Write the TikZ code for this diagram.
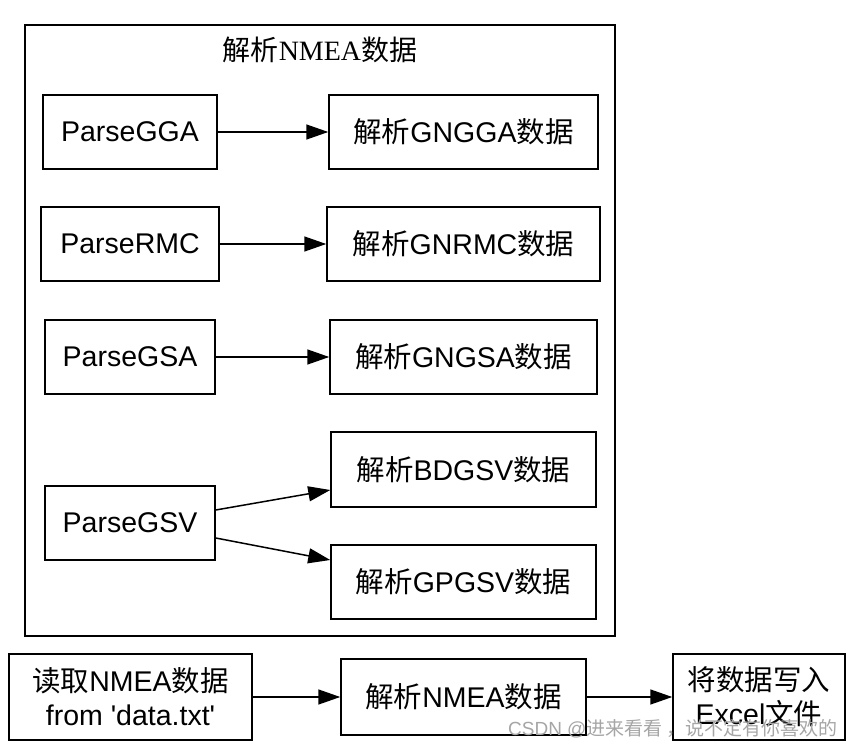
\documentclass[tikz,border=0pt]{standalone}
\usepackage{fontspec}
\setmainfont{Liberation Sans}
\newfontfamily\cjk{Noto Sans CJK SC}
\newfontfamily\titleserif{Liberation Serif}
\usetikzlibrary{arrows.meta}
\begin{document}
\begin{tikzpicture}[x=1pt,y=-1pt,
  box/.style={draw,line width=1.5pt,inner sep=0pt,align=center,font=\fontsize{28.5}{34}\selectfont},
  arr/.style={line width=1.5pt,-{Triangle[length=22pt,width=15pt]}}]
\useasboundingbox (0,0) rectangle (852,749);
\fill[white] (0,0) rectangle (852,749);
% cluster
\node[draw,line width=1.5pt,minimum width=590pt,minimum height=611pt,inner sep=0pt] (cluster) at (320,330.5) {};
\node (title) at (320,50) {\fontsize{28}{32}\selectfont{\cjk 解析}{\titleserif NMEA}{\cjk 数据}};
% left column
\node[box,minimum width=174pt,minimum height=74pt] (gga) at (130,132) {ParseGGA};
\node[box,minimum width=178pt,minimum height=74pt] (rmc) at (130,244) {ParseRMC};
\node[box,minimum width=170pt,minimum height=74pt] (gsa) at (130,357) {ParseGSA};
\node[box,minimum width=170pt,minimum height=74pt] (gsv) at (130,523) {ParseGSV};
% right column
\node[box,minimum width=269pt,minimum height=74pt] (gngga) at (463.5,132) {{\cjk 解析}GNGGA{\cjk 数据}};
\node[box,minimum width=273pt,minimum height=74pt] (gnrmc) at (463.5,244) {{\cjk 解析}GNRMC{\cjk 数据}};
\node[box,minimum width=267pt,minimum height=74pt] (gngsa) at (463.5,357) {{\cjk 解析}GNGSA{\cjk 数据}};
\node[box,minimum width=265pt,minimum height=75pt] (bdgsv) at (463.5,469.5) {{\cjk 解析}BDGSV{\cjk 数据}};
\node[box,minimum width=265pt,minimum height=74pt] (gpgsv) at (463.5,582) {{\cjk 解析}GPGSV{\cjk 数据}};
% bottom row
\node[box,minimum width=243pt,minimum height=86pt] (read) at (130.5,697) {{\cjk 读取}NMEA{\cjk 数据}\\from \textquotesingle data.txt\textquotesingle};
\node[box,minimum width=245pt,minimum height=76pt] (parse) at (463.5,697) {{\cjk 解析}NMEA{\cjk 数据}};
\node[box,minimum width=172pt,minimum height=86pt] (write) at (759,697) {{\cjk 将数据写入}\\Excel{\cjk 文件}};
% edges
\draw[arr] (gga) -- (gngga);
\draw[arr] (rmc) -- (gnrmc);
\draw[arr] (gsa) -- (gngsa);
\draw[arr] ([yshift=13pt]gsv.east) -- ([yshift=-20.5pt]bdgsv.west);
\draw[arr] ([yshift=-15pt]gsv.east) -- ([yshift=22pt]gpgsv.west);
\draw[arr] (read) -- (parse);
\draw[arr] (parse) -- (write);
% watermark
\node[text=black!35,anchor=east,inner sep=0pt] (wm) at (838,729) {\fontsize{19}{21}\selectfont CSDN @{\cjk 进来看看 ，说不定有你喜欢的}};
\end{tikzpicture}
\end{document}
